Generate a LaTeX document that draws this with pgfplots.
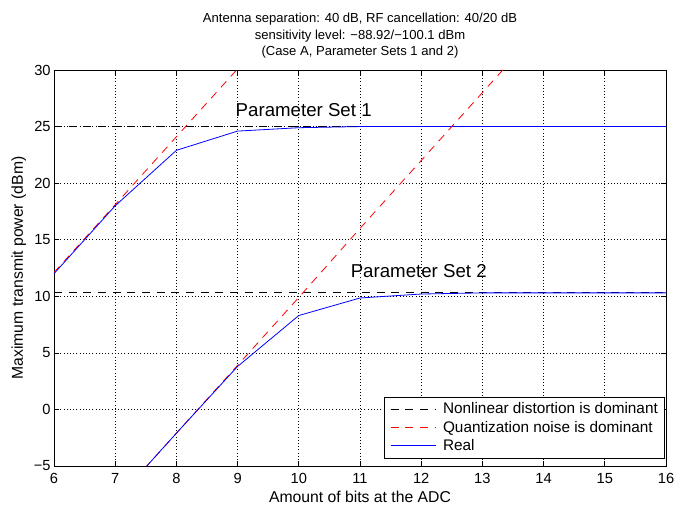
\documentclass[border=0pt]{standalone}
\usepackage{fontspec}
\setmainfont{Liberation Sans}
\usepackage{pgfplots}
\pgfplotsset{compat=1.18}
\begin{document}
\begin{tikzpicture}
\useasboundingbox (-40.5pt,-33pt) rectangle (465pt,349.5pt);
\begin{axis}[
  scale only axis, width=459pt, height=297pt,
  at={(0,0)}, anchor=south west,
  xmin=6, xmax=16, ymin=-5, ymax=30,
  xtick={6,7,...,16},
  ytick={-5,0,5,10,15,20,25,30},
  yticklabels={−5,0,5,10,15,20,25,30},
  /pgf/number format/assume math mode=true,
  tick align=inside, tick pos=both,
  major tick length=4pt,
  grid=major, major grid style={black, dotted, line width=0.5pt},
  axis line style={black, line width=0.6pt},
  tick style={black, line width=0.5pt},
  ticklabel style={font=\fontsize{11}{13}\selectfont},
  xticklabel style={yshift=-2pt},
  yticklabel style={xshift=1pt},
  xlabel={Amount of bits at the ADC},
  ylabel={Maximum transmit power (dBm)},
  label style={font=\fontsize{11.8}{14}\selectfont},
  xlabel style={yshift=1pt},
  ylabel style={yshift=-1pt},
  title={Antenna separation: 40 dB, RF cancellation: 40/20 dB\\sensitivity level: −88.92/−100.1 dBm\\(Case A, Parameter Sets 1 and 2)},
  title style={align=center, font=\fontsize{9.8}{12.5}\selectfont, yshift=-1pt},
  legend style={at={(0.998,0.02)}, anchor=south east,
    font=\fontsize{11.5}{13}\selectfont},
  legend cell align=left,
  legend image code/.code={\draw[#1, line width=0.75pt] (0.05cm,0cm) -- (1.25cm,0cm); \path (0cm,0cm) (1.35cm,0cm);},
]
\addplot[black, line width=0.6pt, dash pattern=on 6pt off 5pt] coordinates {(6,25.0) (16,25.0)};
\addlegendentry{Nonlinear distortion is dominant}
\addplot[red, line width=0.6pt, dash pattern=on 6pt off 5pt] coordinates {(6,12.1) (7,18.1) (8,24.1) (9,30.1)};
\addlegendentry{Quantization noise is dominant}
\addplot[blue, line width=0.6pt] coordinates {(6,12.0) (7,18.0) (8,22.9) (9,24.6) (10,24.9) (11,25.0) (12,25.0) (13,25.0) (14,25.0) (15,25.0) (16,25.0)};
\addlegendentry{Real}
\addplot[black, line width=0.6pt, dash pattern=on 6pt off 5pt, forget plot] coordinates {(6,10.3) (16,10.3)};
\addplot[red, line width=0.6pt, dash pattern=on 6pt off 5pt, forget plot] coordinates {(7,-8.1) (8,-2.1) (9,3.9) (10,9.9) (11,16.0) (12,22.0) (13,28.0) (14,34.0)};
\addplot[blue, line width=0.6pt, forget plot] coordinates {(7,-8.1) (8,-2.1) (9,3.8) (10,8.3) (11,9.85) (12,10.2) (13,10.3) (14,10.3) (15,10.3) (16,10.3)};
\node[font=\fontsize{14}{16}\selectfont] at (axis cs:10.08,26.5) {Parameter Set 1};
\node[font=\fontsize{14}{16}\selectfont] at (axis cs:11.96,12.2) {Parameter Set 2};
\end{axis}
\end{tikzpicture}
\end{document}
